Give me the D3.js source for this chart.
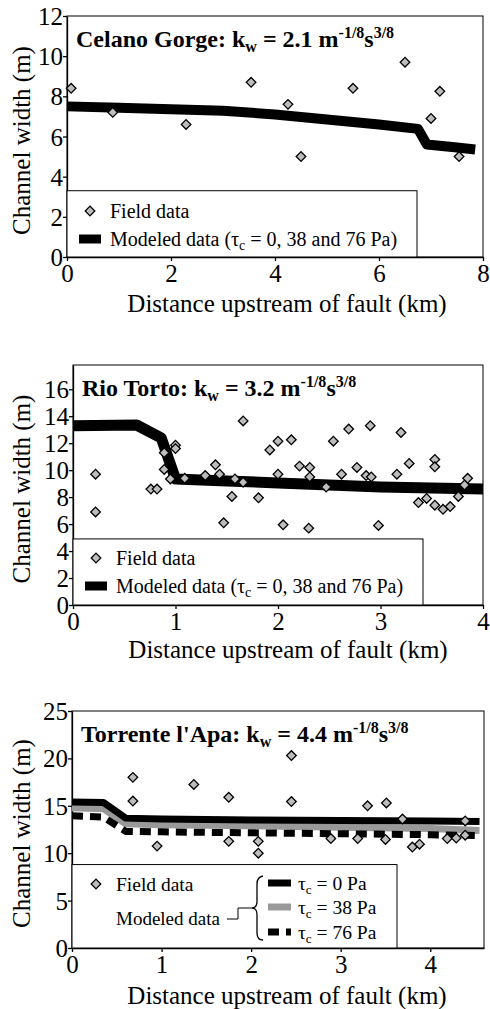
<!DOCTYPE html>
<html lang="en">
<head>
<meta charset="UTF-8">
<title>Channel width vs distance upstream of fault</title>
<script src="https://d3js.org/d3.v7.min.js"></script>
<style>
body { margin: 0; background: #fff; }
svg text { font-family: 'Liberation Serif', 'Times New Roman'; }
</style>
</head>
<body>
<svg id="chart" width="490" height="1009"></svg>
<script>
// ---- data (km, m) ----
const celanoFieldX = [0.08, 0.88, 2.29, 3.54, 4.25, 4.5, 5.5, 6.5, 7.0, 7.17, 7.54];
const celanoFieldY = [8.4, 7.2, 6.6, 8.7, 7.6, 5.0, 8.4, 9.7, 6.9, 8.25, 5.0];
const celanoModelX = [0, 1, 2, 3, 4, 5, 6, 6.75, 6.92, 7.5, 7.85];
const celanoModelY = [7.5, 7.43, 7.36, 7.28, 7.1, 6.85, 6.6, 6.38, 5.6, 5.45, 5.35];

const tortoFieldX = [0.22, 0.22, 0.76, 0.82, 0.89, 0.89, 0.95, 1.0, 1.0, 1.09, 1.29, 1.39, 1.43, 1.47, 1.55, 1.58, 1.66, 1.66,
  1.81, 1.92, 2.0, 2.0, 2.05, 2.13, 2.21, 2.30, 2.31, 2.31, 2.47, 2.54, 2.62, 2.69, 2.77, 2.86, 2.90, 2.91, 2.98,
  3.16, 3.20, 3.28, 3.37, 3.45, 3.53, 3.53, 3.53, 3.61, 3.68, 3.76, 3.82, 3.85];
const tortoFieldY = [9.7, 6.9, 8.6, 8.6, 11.3, 10.05, 9.35, 11.85, 11.6, 9.4, 9.6, 10.4, 9.7, 6.1, 8.05, 9.35, 13.65, 9.1,
  7.95, 11.5, 12.15, 9.7, 5.95, 12.25, 10.3, 5.7, 10.2, 9.5, 8.75, 12.15, 9.7, 13.05, 10.2, 9.6, 13.3, 9.5, 5.9,
  9.7, 12.8, 10.5, 7.6, 7.9, 10.8, 10.25, 7.4, 7.1, 7.3, 8.05, 8.9, 9.4];
const tortoModelX = [0, 0.62, 0.86, 1.0, 1.5, 2, 2.5, 3, 3.5, 4];
const tortoModelY = [13.3, 13.35, 12.4, 9.35, 9.2, 9.05, 8.9, 8.75, 8.68, 8.6];

const apaFieldX = [0.68, 0.68, 0.95, 1.36, 1.75, 1.75, 2.08, 2.08, 2.45, 2.45, 2.89, 3.19, 3.30, 3.50, 3.51, 3.69, 3.80, 3.88, 4.19, 4.29, 4.39, 4.39];
const apaFieldY = [18.0, 15.5, 10.75, 17.25, 15.9, 11.25, 11.25, 10.0, 20.3, 15.45, 11.55, 11.55, 15.0, 11.45, 15.3, 13.6, 10.65, 10.95, 11.55, 11.6, 11.9, 13.4];
const apaModelX = [0, 0.35, 0.6, 1, 2, 3, 4, 4.55];
const apaModel0 = [15.4, 15.35, 13.7, 13.6, 13.5, 13.45, 13.4, 13.35];
const apaModel38 = [14.8, 14.7, 13.1, 13.0, 12.9, 12.75, 12.6, 12.4];
const apaModel76 = [13.95, 13.8, 12.3, 12.25, 12.15, 12.05, 11.95, 11.85];

const celanoXTicks = [0, 2, 4, 6, 8];
const celanoYTicks = [0, 2, 4, 6, 8, 10, 12];
const tortoXTicks = [0, 1, 2, 3, 4];
const tortoYTicks = [0, 2, 4, 6, 8, 10, 12, 14, 16];
const apaXTicks = [0, 1, 2, 3, 4];
const apaYTicks = [0, 5, 10, 15, 20, 25];

const FONT = "'Liberation Serif', 'Times New Roman'";
const svg = d3.select("#chart");
const pts = (xs, ys) => xs.map((x, i) => ({ x: x, y: ys[i] }));
const txt = (g, x, y, size) => g.append("text").attr("x", x).attr("y", y)
  .style("font-family", FONT).attr("font-size", size).attr("fill", "#000");

// title with k_w and m^-1/8 s^3/8
function kwTitle(g, x, y, name, val) {
  const t = txt(g, x, y, 24).attr("font-weight", "bold");
  t.append("tspan").text(name + ": k");
  t.append("tspan").attr("dy", 5).attr("font-size", 16).text("w");
  t.append("tspan").attr("dy", -5).text(" = " + val + " m");
  t.append("tspan").attr("dy", -9).attr("font-size", 16).text("-1/8");
  t.append("tspan").attr("dy", 9).text("s");
  t.append("tspan").attr("dy", -9).attr("font-size", 16).text("3/8");
}

function tauText(g, x, y, rest, size) {
  const t = txt(g, x, y, size);
  t.append("tspan").text("τ");
  t.append("tspan").attr("dy", 4).attr("font-size", size * 0.68).text("c");
  t.append("tspan").attr("dy", -4).text(rest);
  return t;
}

function drawPanel(p) {
  const g = svg.append("g");
  const x = d3.scaleLinear().domain(p.xDomain).range([p.left, p.right]);
  const y = d3.scaleLinear().domain(p.yDomain).range([p.bottom, p.top]);

  // frame
  g.append("rect").attr("x", p.left).attr("y", p.top)
    .attr("width", p.right - p.left).attr("height", p.bottom - p.top)
    .attr("fill", "none").attr("stroke", "#000").attr("stroke-width", 1);

  // axes
  const xa = g.append("g").attr("transform", `translate(0,${p.bottom})`)
    .call(d3.axisBottom(x).tickValues(p.xTicks).tickSize(4).tickSizeOuter(0).tickFormat(d3.format("d")));
  const ya = g.append("g").attr("transform", `translate(${p.left},0)`)
    .call(d3.axisLeft(y).tickValues(p.yTicks).tickSize(4).tickSizeOuter(0).tickFormat(d3.format("d")));
  [xa, ya].forEach(a => {
    a.selectAll("path, line").attr("stroke", "#000").attr("stroke-width", 1.3);
    a.selectAll("text").style("font-family", FONT).attr("font-size", 25).attr("fill", "#000");
  });
  xa.selectAll("text").attr("y", 5).attr("dy", "0.8em");
  ya.selectAll("text").attr("x", -4).attr("dy", "0.34em");

  txt(g, p.xTitleX, p.bottom + p.xTitleDy, 25).attr("text-anchor", "middle")
    .text("Distance upstream of fault (km)");
  txt(g, 0, 0, 25).attr("transform", `translate(30,${(p.top + p.bottom) / 2 + 4}) rotate(-90)`)
    .attr("text-anchor", "middle").text("Channel width (m)");

  const line = d3.line().x(d => x(d.x)).y(d => y(d.y));
  p.models.forEach(m => {
    g.append("path").datum(m.data).attr("d", line)
      .attr("fill", "none").attr("stroke", m.color).attr("stroke-width", m.width)
      .attr("stroke-dasharray", m.dash || null).attr("stroke-linejoin", "round");
  });

  // legend box
  g.append("rect").attr("x", p.left).attr("y", y(p.legendTop))
    .attr("width", p.legendRight - p.left).attr("height", p.bottom - y(p.legendTop))
    .attr("fill", "#fff").attr("stroke", "#000").attr("stroke-width", 1);

  const diamond = d3.symbol().type(d3.symbolSquare).size(46);
  g.selectAll(".pt").data(p.field).join("path").attr("class", "pt")
    .attr("d", diamond)
    .attr("transform", d => `translate(${x(d.x)},${y(d.y)}) rotate(45)`)
    .attr("fill", "#bdbdbd").attr("stroke", "#000").attr("stroke-width", 1.3);

  kwTitle(g, p.left + 9, p.top + 31, p.name, p.kw);
  return { g, x, y };
}

function fieldLegend(g, lx, ly, size) {
  g.append("path").attr("d", d3.symbol().type(d3.symbolSquare).size(46))
    .attr("transform", `translate(${lx},${ly}) rotate(45)`)
    .attr("fill", "#bdbdbd").attr("stroke", "#000").attr("stroke-width", 1.3);
  txt(g, lx + 20, ly + 7, size).text("Field data");
}

function bandLegend(g, lx, ly) {
  g.append("line").attr("x1", lx - 11).attr("x2", lx + 11).attr("y1", ly).attr("y2", ly)
    .attr("stroke", "#000").attr("stroke-width", 9);
  const t = txt(g, lx + 20, ly + 7, 20);
  t.append("tspan").text("Modeled data (τ");
  t.append("tspan").attr("dy", 4).attr("font-size", 14).text("c");
  t.append("tspan").attr("dy", -4).text(" = 0, 38 and 76 Pa)");
}

// ---- panel 1: Celano Gorge ----
const p1 = drawPanel({
  left: 67, right: 483, top: 16, bottom: 257, xTitleX: 287, xTitleDy: 55,
  xDomain: [0, 8], yDomain: [0, 12], xTicks: celanoXTicks, yTicks: celanoYTicks,
  legendTop: 3.3, legendRight: 417,
  name: "Celano Gorge", kw: "2.1",
  field: pts(celanoFieldX, celanoFieldY),
  models: [{ data: pts(celanoModelX, celanoModelY), color: "#000", width: 10 }]
});
fieldLegend(p1.g, 90, 211, 20);
bandLegend(p1.g, 90, 239);

// ---- panel 2: Rio Torto ----
const p2 = drawPanel({
  left: 73, right: 483, top: 365, bottom: 605, xTitleX: 288, xTitleDy: 53,
  xDomain: [0, 4], yDomain: [0, 17.8], xTicks: tortoXTicks, yTicks: tortoYTicks,
  legendTop: 4.9, legendRight: 423,
  name: "Rio Torto", kw: "3.2",
  field: pts(tortoFieldX, tortoFieldY),
  models: [{ data: pts(tortoModelX, tortoModelY), color: "#000", width: 11 }]
});
fieldLegend(p2.g, 96, 558, 20);
bandLegend(p2.g, 96, 586);

// ---- panel 3: Torrente l'Apa ----
const p3 = drawPanel({
  left: 72, right: 484, top: 711, bottom: 948, xTitleX: 287, xTitleDy: 56,
  xDomain: [0, 4.6], yDomain: [0, 25], xTicks: apaXTicks, yTicks: apaYTicks,
  legendTop: 8.8, legendRight: 397,
  name: "Torrente l'Apa", kw: "4.4",
  field: pts(apaFieldX, apaFieldY),
  models: [
    { data: pts(apaModelX, apaModel38), color: "#999", width: 7 },
    { data: pts(apaModelX, apaModel0), color: "#000", width: 7 },
    { data: pts(apaModelX, apaModel76), color: "#000", width: 7, dash: "11,7" }
  ]
});
fieldLegend(p3.g, 96, 884, 19.5);
txt(p3.g, 116, 925, 19).text("Modeled data");
p3.g.append("path").attr("d", "M227,919H238V908H252").attr("fill", "none").attr("stroke", "#000").attr("stroke-width", 1);
p3.g.append("path")
  .attr("d", "M263,876Q257,877 257,884V901Q257,908 252,908Q257,908 257,915V933Q257,940 263,940")
  .attr("fill", "none").attr("stroke", "#000").attr("stroke-width", 1.3);
const swatches = [
  { y: 883, color: "#000", dash: null, label: " = 0 Pa" },
  { y: 907, color: "#999", dash: null, label: " = 38 Pa" },
  { y: 932, color: "#000", dash: "11,7", label: " = 76 Pa" }
];
swatches.forEach(s => {
  p3.g.append("line").attr("x1", 268).attr("x2", 291).attr("y1", s.y).attr("y2", s.y)
    .attr("stroke", s.color).attr("stroke-width", 7).attr("stroke-dasharray", s.dash);
  tauText(p3.g, 298, s.y + 7, s.label, 19.5);
});
</script>
</body>
</html>
